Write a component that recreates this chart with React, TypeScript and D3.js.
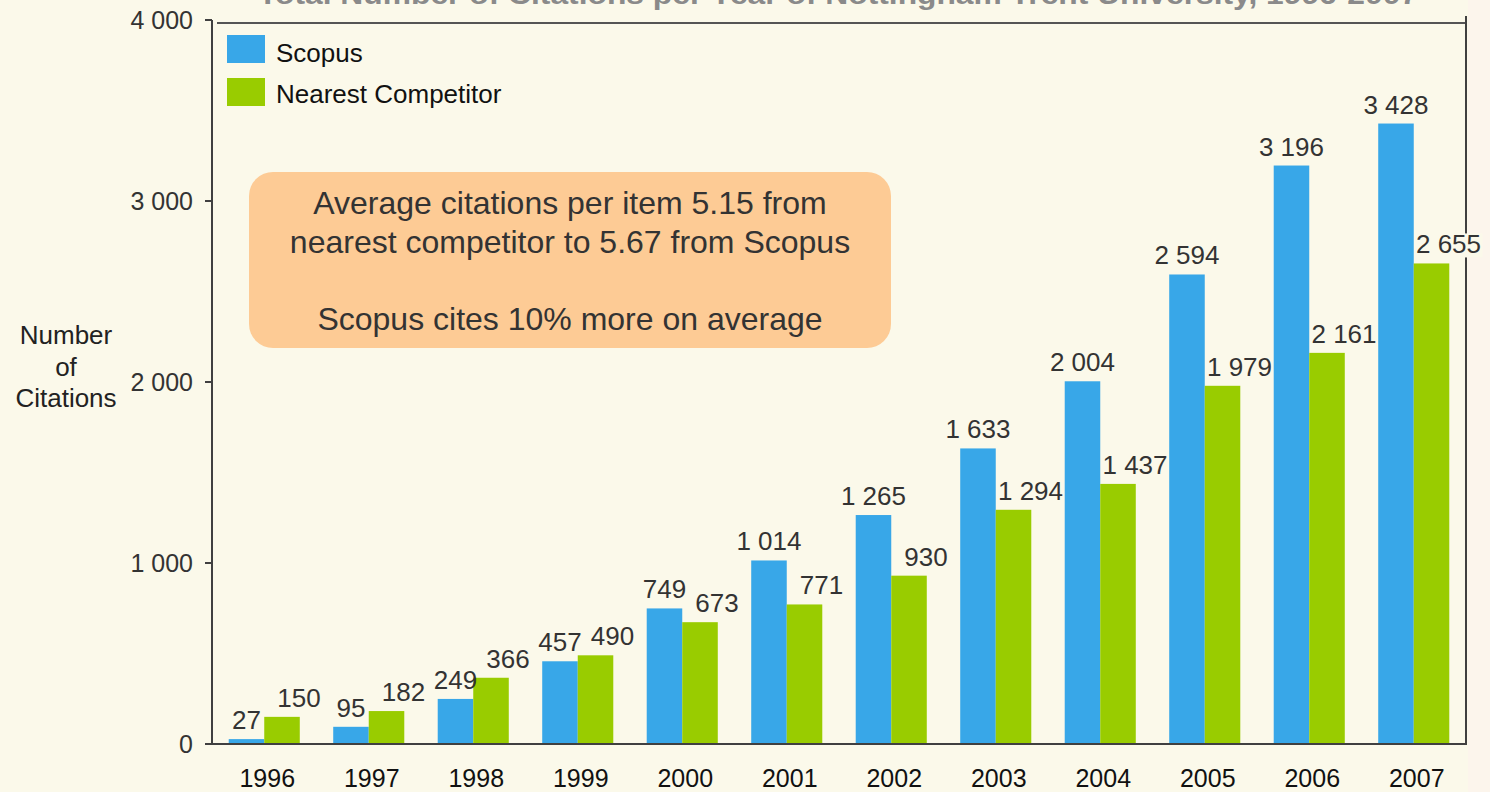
import React from "react";
import * as d3 from "d3";

const years = ["1996","1997","1998","1999","2000","2001","2002","2003","2004","2005","2006","2007"];
const scopus = [27, 95, 249, 457, 749, 1014, 1265, 1633, 2004, 2594, 3196, 3428];
const competitor = [150, 182, 366, 490, 673, 771, 930, 1294, 1437, 1979, 2161, 2655];
const yTicks = [0, 1000, 2000, 3000, 4000];
const seriesNames = ["Scopus", "Nearest Competitor"];
const seriesColors = ["#38A7E8", "#99CC00"];
const titleText = "Total Number of Citations per Year of Nottingham Trent University, 1996-2007";
const noteLines = ["Average citations per item 5.15 from", "nearest competitor to 5.67 from Scopus", "", "Scopus cites 10% more on average"];
const yTitleLines = ["Number", "of", "Citations"];

const W = 1490, H = 792;
const left = 212, right = 1466, top = 20, bottom = 744;
const BG = "#FBF9EA";
const AXIS = "#404040";
const FONT = "Liberation Sans, Arial, sans-serif";

const fmt = d3.formatLocale({ decimal: ".", thousands: " ", grouping: [3], currency: ["", ""] }).format(",d");

export default function App() {
  const x = d3.scaleBand<string>().domain(years).range([left, right]).paddingInner(0.32).paddingOuter(0.16);
  const sub = d3.scaleBand<number>().domain([0, 1]).range([0, x.bandwidth()]);
  const y = d3.scaleLinear().domain([0, 4000]).range([bottom, top]);
  const series = [scopus, competitor];
  const labelDx = [0, 17];

  return (
    <svg width={W} height={H} style={{ position: "absolute", left: 0, top: 0, fontFamily: FONT }}>
      <rect x={0} y={0} width={W} height={H} fill={BG} />
      <rect x={1468} y={0} width={W - 1468} height={H} fill="#FCF5EC" />
      {/* clipped title */}
      <text x={838} y={4} textAnchor="middle" fontSize={28} fontWeight="bold" fill="#8a8a8a"
        textLength={1160} lengthAdjust="spacingAndGlyphs">{titleText}</text>

      {/* plot border */}
      <line x1={217} x2={right} y1={23} y2={23} stroke="#555" strokeWidth={2} />
      <line x1={right} x2={right} y1={16} y2={bottom + 1} stroke={AXIS} strokeWidth={2} />

      {/* bars */}
      {series.map((vals, si) =>
        vals.map((v, i) => (
          <rect key={`b${si}-${i}`} x={(x(years[i]) as number) + (sub(si) as number)} y={y(v)}
            width={sub.bandwidth()} height={bottom - y(v)} fill={seriesColors[si]} />
        ))
      )}

      {/* value labels */}
      {series.map((vals, si) =>
        vals.map((v, i) => {
          const cx = (x(years[i]) as number) + (sub(si) as number) + sub.bandwidth() / 2 + labelDx[si];
          const label = fmt(v);
          const halo = cx + label.length * 6.5 > right;
          return (
            <g key={`l${si}-${i}`}>
              {halo && <rect x={cx - label.length * 6.8} y={y(v) - 30} width={label.length * 13.6} height={24} fill={BG} />}
              <text x={cx} y={y(v) - 10} textAnchor="middle" fontSize={26} fill="#333">{label}</text>
            </g>
          );
        })
      )}

      {/* y axis */}
      <line x1={left} x2={left} y1={top} y2={bottom} stroke={AXIS} strokeWidth={2} />
      {yTicks.map((t) => (
        <g key={`t${t}`}>
          <line x1={205} x2={left} y1={y(t)} y2={y(t)} stroke={AXIS} strokeWidth={2} />
          <text x={193} y={y(t)} dy="0.35em" textAnchor="end" fontSize={25} fill="#333">{fmt(t)}</text>
        </g>
      ))}
      {/* x axis */}
      <line x1={205} x2={right + 1} y1={bottom} y2={bottom} stroke={AXIS} strokeWidth={2} />
      {years.map((yr) => (
        <text key={`x${yr}`} x={(x(yr) as number) + x.bandwidth() / 2 + 3} y={787} textAnchor="middle" fontSize={25} fill="#111">{yr}</text>
      ))}

      {/* y title */}
      {yTitleLines.map((l, i) => (
        <text key={`yt${i}`} x={66} y={344 + i * 31.5} textAnchor="middle" fontSize={26} fill="#222">{l}</text>
      ))}

      {/* legend */}
      {seriesNames.map((n, i) => (
        <g key={`lg${i}`}>
          <rect x={227} y={35 + i * 43} width={38} height={28} fill={seriesColors[i]} />
          <text x={276} y={62 + i * 41} fontSize={26} fill="#111">{n}</text>
        </g>
      ))}

      {/* annotation */}
      <rect x={249} y={172} width={642} height={176} rx={24} ry={24} fill="#FDCB95" />
      {noteLines.map((l, i) => (
        <text key={`n${i}`} x={570} y={214 + i * 38.5} textAnchor="middle" fontSize={32} fill="#333">{l}</text>
      ))}
    </svg>
  );
}
